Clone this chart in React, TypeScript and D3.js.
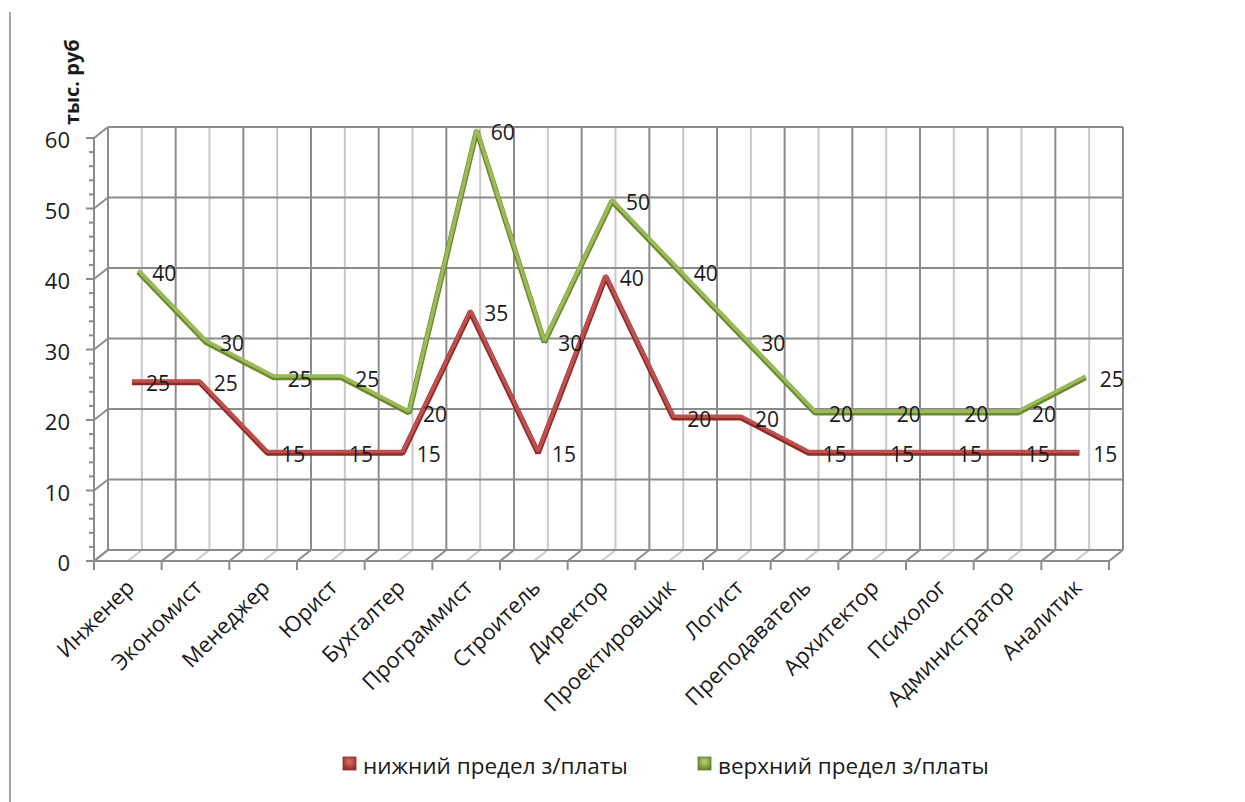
import React, { useEffect, useRef } from "react"
import * as d3 from "d3"

const categories = [
  "Инженер",
  "Экономист",
  "Менеджер",
  "Юрист",
  "Бухгалтер",
  "Программист",
  "Строитель",
  "Директор",
  "Проектировщик",
  "Логист",
  "Преподаватель",
  "Архитектор",
  "Психолог",
  "Администратор",
  "Аналитик",
]

const lowerSalary = [25, 25, 15, 15, 15, 35, 15, 40, 20, 20, 15, 15, 15, 15, 15]
const upperSalary = [40, 30, 25, 25, 20, 60, 30, 50, 40, 30, 20, 20, 20, 20, 25]

const yTicks = [0, 10, 20, 30, 40, 50, 60]

const seriesNames = ["нижний предел з/платы", "верхний предел з/платы"]

const FONT = "'Open Sans', 'Noto Sans', sans-serif"

const App = () => {
  const ref = useRef<SVGSVGElement | null>(null)

  useEffect(() => {
    const svg = d3.select(ref.current)
    svg.selectAll("*").remove()

    // back wall
    const left = 108
    const right = 1123
    const top = 127
    const bottom = 550
    // depth of the 3d box (back -> front)
    const depthX = -14
    const depthY = 11

    const x = d3.scaleBand().domain(categories).range([left, right]).padding(0)
    const y = d3.scaleLinear().domain([0, 60]).range([bottom, top])
    const bw = x.bandwidth()

    const dark = "#8c8c8c"
    const light = "#c9c9c9"

    const defs = svg.append("defs")
    const grad = (id: string, c1: string, c2: string) => {
      const g = defs
        .append("radialGradient")
        .attr("id", id)
        .attr("cx", "50%")
        .attr("cy", "35%")
        .attr("r", "70%")
      g.append("stop").attr("offset", "0%").attr("stop-color", c1)
      g.append("stop").attr("offset", "100%").attr("stop-color", c2)
    }
    grad("gRed", "#e06a66", "#8f2a27")
    grad("gGreen", "#b8d66e", "#5f7d25")

    // outer border line on the left
    svg
      .append("line")
      .attr("x1", 10)
      .attr("x2", 10)
      .attr("y1", 12)
      .attr("y2", 802)
      .attr("stroke", "#a6a6a6")
      .attr("stroke-width", 2)

    const grid = svg.append("g").attr("fill", "none")

    // vertical lines on back wall and floor: centers light, boundaries dark
    categories.forEach((c) => {
      const cx = x(c)! + bw / 2
      grid
        .append("line")
        .attr("x1", cx)
        .attr("x2", cx)
        .attr("y1", top)
        .attr("y2", bottom)
        .attr("stroke", light)
        .attr("stroke-width", 2)
      grid
        .append("line")
        .attr("x1", cx)
        .attr("y1", bottom)
        .attr("x2", cx + depthX)
        .attr("y2", bottom + depthY)
        .attr("stroke", light)
        .attr("stroke-width", 2)
    })
    d3.range(categories.length + 1).forEach((i) => {
      const bx = left + i * bw
      grid
        .append("line")
        .attr("x1", bx)
        .attr("x2", bx)
        .attr("y1", top)
        .attr("y2", bottom)
        .attr("stroke", dark)
        .attr("stroke-width", 2)
      grid
        .append("line")
        .attr("x1", bx)
        .attr("y1", bottom)
        .attr("x2", bx + depthX)
        .attr("y2", bottom + depthY)
        .attr("stroke", dark)
        .attr("stroke-width", 2)
      // tick under front axis
      grid
        .append("line")
        .attr("x1", bx + depthX)
        .attr("x2", bx + depthX)
        .attr("y1", bottom + depthY)
        .attr("y2", bottom + depthY + 9)
        .attr("stroke", dark)
        .attr("stroke-width", 2)
    })

    // horizontal gridlines + side wall
    yTicks.forEach((t) => {
      grid
        .append("line")
        .attr("x1", left)
        .attr("x2", right)
        .attr("y1", y(t))
        .attr("y2", y(t))
        .attr("stroke", dark)
        .attr("stroke-width", 2)
      grid
        .append("line")
        .attr("x1", left)
        .attr("y1", y(t))
        .attr("x2", left + depthX)
        .attr("y2", y(t) + depthY)
        .attr("stroke", dark)
        .attr("stroke-width", 2)
    })

    // front floor edge
    grid
      .append("line")
      .attr("x1", left + depthX)
      .attr("x2", right + depthX)
      .attr("y1", bottom + depthY)
      .attr("y2", bottom + depthY)
      .attr("stroke", dark)
      .attr("stroke-width", 2)

    // front y axis
    const ax = left + depthX
    grid
      .append("line")
      .attr("x1", ax)
      .attr("x2", ax)
      .attr("y1", y(60) + depthY)
      .attr("y2", y(0) + depthY)
      .attr("stroke", dark)
      .attr("stroke-width", 2)
    d3.range(0, 61, 2).forEach((v) => {
      const major = v % 10 === 0
      grid
        .append("line")
        .attr("x1", ax - (major ? 8 : 5))
        .attr("x2", ax)
        .attr("y1", y(v) + depthY)
        .attr("y2", y(v) + depthY)
        .attr("stroke", dark)
        .attr("stroke-width", 2)
    })

    svg
      .append("g")
      .selectAll("text")
      .data(yTicks)
      .join("text")
      .attr("x", 70)
      .attr("y", (d) => y(d) + depthY + 1)
      .attr("text-anchor", "end")
      .attr("dominant-baseline", "central")
      .attr("font-family", FONT)
      .attr("font-size", 22)
      .attr("fill", "#1a1a1a")
      .text((d) => d)

    // axis title
    svg
      .append("text")
      .attr("transform", "translate(79,125) rotate(-90)")
      .attr("font-family", FONT)
      .attr("font-size", 20)
      .attr("font-weight", "bold")
      .attr("fill", "#1a1a1a")
      .text("тыс. руб")

    // category labels
    svg
      .append("g")
      .selectAll("text")
      .data(categories)
      .join("text")
      .attr("transform", (d) => {
        const cx = x(d)! + bw / 2 + depthX
        return `translate(${cx + 8},${bottom + depthY + 28}) rotate(-45)`
      })
      .attr("text-anchor", "end")
      .attr("font-family", FONT)
      .attr("font-size", 22)
      .attr("fill", "#1a1a1a")
      .text((d) => d)

    // series lines
    const series = [
      { values: upperSalary, depth: 0.25, main: "#9bbb59", shade: "#6b8a30" },
      { values: lowerSalary, depth: 0.7, main: "#c0504d", shade: "#8e2b28" },
    ]

    series.forEach((s) => {
      const px = (i: number) => x(categories[i])! + bw / 2 + depthX * s.depth
      const py = (v: number) => y(v) + depthY * s.depth
      const line = d3
        .line<number>()
        .x((d, i) => px(i))
        .y((d) => py(d))
      svg
        .append("path")
        .datum(s.values)
        .attr("d", line)
        .attr("transform", "translate(0,1)")
        .attr("fill", "none")
        .attr("stroke", s.shade)
        .attr("stroke-width", 5.5)
        .attr("stroke-linejoin", "bevel")
      svg
        .append("path")
        .datum(s.values)
        .attr("d", line)
        .attr("transform", "translate(0,-0.5)")
        .attr("fill", "none")
        .attr("stroke", s.main)
        .attr("stroke-width", 3.5)
        .attr("stroke-linejoin", "bevel")
    })

    // data labels
    series.forEach((s) => {
      svg
        .append("g")
        .selectAll("text")
        .data(s.values)
        .join("text")
        .attr("x", (d, i) => x(categories[i])! + bw / 2 + depthX * s.depth + 14)
        .attr("y", (d) => y(d) + depthY * s.depth + 2)
        .attr("dominant-baseline", "central")
        .attr("font-family", FONT)
        .attr("font-size", 21)
        .attr("fill", "#1a1a1a")
        .text((d) => d)
    })

    // legend
    const legend = [
      { name: seriesNames[0], fill: "url(#gRed)", stroke: "#8e2b28", x: 343 },
      { name: seriesNames[1], fill: "url(#gGreen)", stroke: "#5f7d25", x: 698 },
    ]
    legend.forEach((l) => {
      svg
        .append("rect")
        .attr("x", l.x)
        .attr("y", 757)
        .attr("width", 13)
        .attr("height", 13)
        .attr("fill", l.fill)
        .attr("stroke", l.stroke)
        .attr("stroke-width", 0.8)
      svg
        .append("text")
        .attr("x", l.x + 20)
        .attr("y", 765)
        .attr("dominant-baseline", "central")
        .attr("font-family", FONT)
        .attr("font-size", 22.5)
        .attr("fill", "#1a1a1a")
        .text(l.name)
    })
  }, [])

  return (
    <svg
      ref={ref}
      width={1245}
      height={802}
      style={{ position: "absolute", left: 0, top: 0, background: "#fff" }}
    ></svg>
  )
}

export default App
